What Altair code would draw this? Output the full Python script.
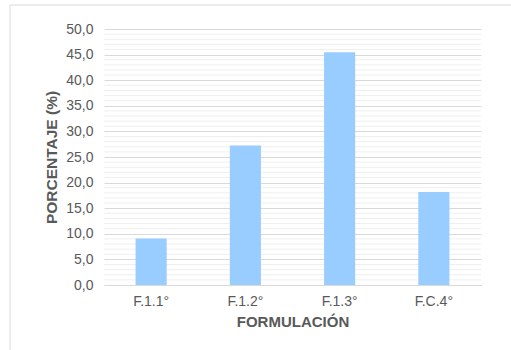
import altair as alt
import pandas as pd

# Share of each formulation (percent)
formulaciones = ["F.1.1°", "F.1.2°", "F.1.3°", "F.C.4°"]
porcentajes = [9.09, 27.27, 45.45, 18.18]
major_ticks = [0, 5, 10, 15, 20, 25, 30, 35, 40, 45, 50]
minor_ticks = [v for v in range(0, 51) if v % 5 != 0]

df = pd.DataFrame({"formulacion": formulaciones, "porcentaje": porcentajes})
minor_df = pd.DataFrame({"porcentaje": minor_ticks})

FONT = "Liberation Sans"
TEXT = "#595959"

y_scale = alt.Scale(domain=[0, 50], nice=False)
y_axis = alt.Axis(
    title="PORCENTAJE (%)",
    values=major_ticks,
    labelExpr="replace(format(datum.value, '.1f'), '.', ',')",
    labelFont=FONT,
    labelFontSize=14,
    labelColor=TEXT,
    labelPadding=11,
    titleFont=FONT,
    titleFontSize=15.5,
    titleFontWeight="bold",
    titleColor=TEXT,
    titlePadding=6,
    ticks=False,
    domain=False,
    gridColor="#d9d9d9",
)

# Outer chart frame (light border, top and left edges)
frame = alt.Chart(pd.DataFrame({"a": [0]})).mark_rect(
    fill=None, stroke="#d9d9d9", strokeWidth=1
).encode(
    x=alt.value(-94), x2=alt.value(420), y=alt.value(-24), y2=alt.value(330)
)

# Minor gridlines every 1 %
minor = alt.Chart(minor_df).mark_rule(color="#efefef", strokeWidth=1).encode(
    y=alt.Y("porcentaje:Q", scale=y_scale, axis=y_axis)
)

bars = alt.Chart(df).mark_bar(color="#99ccff", opacity=1).encode(
    x=alt.X(
        "formulacion:N",
        sort=formulaciones,
        scale=alt.Scale(paddingInner=0.67, paddingOuter=0.335),
        axis=alt.Axis(
            title="FORMULACIÓN",
            labelAngle=0,
            labelFont=FONT,
            labelFontSize=14,
            labelColor=TEXT,
            labelPadding=9,
            titleFont=FONT,
            titleFontSize=15,
            titleFontWeight="bold",
            titleColor=TEXT,
            titlePadding=6,
            ticks=False,
            domainColor="#d9d9d9",
            grid=False,
        ),
    ),
    y=alt.Y("porcentaje:Q", scale=y_scale, axis=y_axis),
)

chart = (
    alt.layer(frame, minor, bars)
    .properties(
        width=377,
        height=256,
        autosize=alt.AutoSizeParams(type="none"),
        padding={"left": 104, "top": 29, "right": 30, "bottom": 65},
        background="white",
    )
    .configure_view(stroke=None)
)

chart.save("out.html", embed_options={"renderer": "svg", "actions": False})
